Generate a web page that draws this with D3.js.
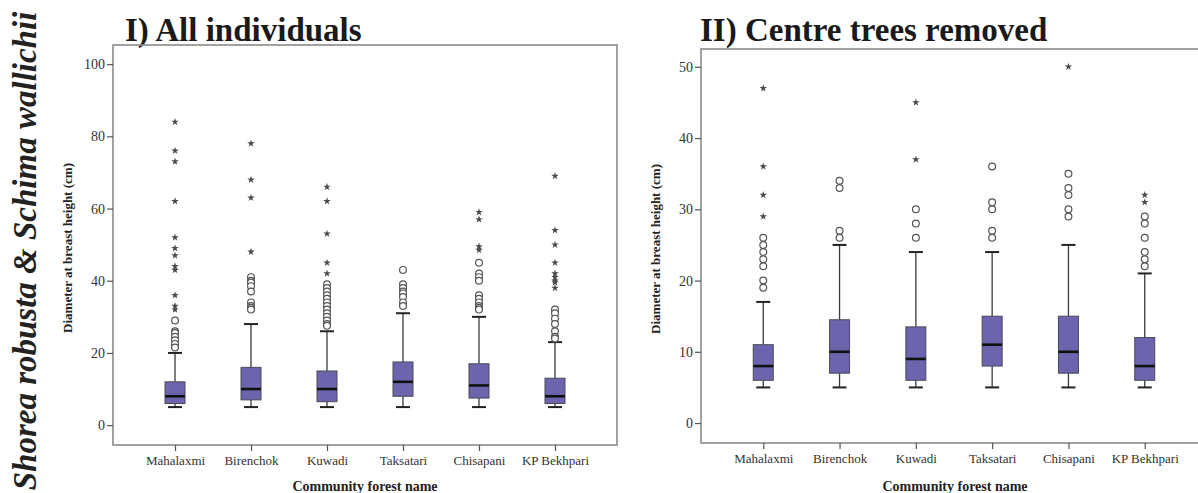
<!DOCTYPE html>
<html>
<head>
<meta charset="utf-8">
<script src="https://cdn.jsdelivr.net/npm/d3@7"></script>
<style>
  body { margin: 0; background: #fff; }
  svg { display: block; }
  svg text { font-family: "Liberation Serif", "Times New Roman", Times, serif; }
</style>
</head>
<body>
<svg id="chart" width="1198" height="493"></svg>
<script>
// Community forests (x categories, same order in both panels)
const forests = ["Mahalaxmi", "Birenchok", "Kuwadi", "Taksatari", "Chisapani", "KP Bekhpari"];

// Panel I: all individuals (DBH, cm)
const allWhiskerLow  = [5, 5, 5, 5, 5, 5];
const allQ1          = [6, 7, 6.5, 8, 7.5, 6];
const allMedian      = [8, 10, 10, 12, 11, 8];
const allQ3          = [12, 16, 15, 17.5, 17, 13];
const allWhiskerHigh = [20, 28, 26, 31, 30, 23];
const allOutliers = [
  [29, 26, 25.5, 24.5, 23.5, 22.5, 21.5],
  [41, 40, 39.5, 38.5, 37, 34, 33, 32.5, 32],
  [39, 38, 37, 36, 35, 34, 33, 32, 31, 30, 29, 28, 27.5],
  [43, 39, 38, 37, 36.5, 35.5, 34, 33],
  [45, 42, 41, 40, 36, 35, 34, 33, 32.5, 32],
  [32, 31, 29.5, 28, 26, 24.5, 24]
];
const allExtremes = [
  [84, 76, 73, 62, 52, 49, 47, 44, 43, 36, 33, 32],
  [78, 68, 63, 48],
  [66, 62, 53, 45, 42],
  [],
  [59, 57, 49.5, 48.5],
  [69, 54, 50, 45, 42, 41, 40, 39.5, 38]
];
const allTicks = [0, 20, 40, 60, 80, 100];

// Panel II: centre trees removed (DBH, cm)
const ctrWhiskerLow  = [5, 5, 5, 5, 5, 5];
const ctrQ1          = [6, 7, 6, 8, 7, 6];
const ctrMedian      = [8, 10, 9, 11, 10, 8];
const ctrQ3          = [11, 14.5, 13.5, 15, 15, 12];
const ctrWhiskerHigh = [17, 25, 24, 24, 25, 21];
const ctrOutliers = [
  [26, 25, 24, 23, 22, 20, 19],
  [34, 33, 27, 26],
  [30, 28, 26],
  [36, 31, 30, 27, 26],
  [35, 33, 32, 30, 29],
  [29, 28, 26, 24, 23, 22]
];
const ctrExtremes = [
  [47, 36, 32, 29],
  [],
  [45, 37],
  [],
  [50],
  [32, 31]
];
const ctrTicks = [0, 10, 20, 30, 40, 50];

const svg = d3.select("#chart");
const boxFill = "#6c64ac";
const ink = "#3a3a3a";

// Species label running up the left edge
svg.append("text")
  .attr("transform", "translate(36,251) rotate(-90)")
  .attr("text-anchor", "middle")
  .style("font-weight", "bold")
  .style("font-style", "italic")
  .style("font-size", "33px")
  .attr("fill", "#222")
  .text("Shorea robusta & Schima wallichii");

function drawPanel(p) {
  const x = d3.scalePoint().domain(forests).range([p.left, p.right]).padding(0.816);
  const y = d3.scaleLinear().domain(p.yDomain).range([p.bottom, p.top]);
  const g = svg.append("g");
  const boxW = 20, capW = 14;

  // Title
  g.append("text")
    .attr("x", p.titleX).attr("y", 41)
    .style("font-weight", "bold").style("font-size", "33px")
    .attr("fill", "#1a1a1a")
    .text(p.title);

  // Frame
  g.append("rect")
    .attr("x", p.left).attr("y", p.top)
    .attr("width", p.right - p.left).attr("height", p.bottom - p.top)
    .attr("fill", "none").attr("stroke", "#8a8a8a").attr("stroke-width", 1.6);

  // Y axis
  const ya = g.append("g").attr("transform", `translate(${p.left},0)`)
    .call(d3.axisLeft(y).tickValues(p.ticks).tickSize(6).tickPadding(2));
  ya.attr("font-family", null);
  ya.select(".domain").remove();
  ya.selectAll(".tick line").attr("stroke", "#555").attr("stroke-width", 1.2);
  ya.selectAll(".tick text").style("font-size", "14px").attr("fill", "#333");

  // X axis
  const xa = g.append("g").attr("transform", `translate(0,${p.bottom})`)
    .call(d3.axisBottom(x).tickSize(6).tickPadding(5));
  xa.attr("font-family", null);
  xa.select(".domain").remove();
  xa.selectAll(".tick line").attr("stroke", "#555").attr("stroke-width", 1.2);
  xa.selectAll(".tick text").style("font-size", "13px").attr("fill", "#333");

  // Axis titles
  g.append("text")
    .attr("transform", `translate(${p.left - 41},${(p.top + p.bottom) / 2 + 3}) rotate(-90)`)
    .attr("text-anchor", "middle")
    .style("font-weight", "bold").style("font-size", "13px")
    .attr("fill", "#222")
    .text("Diameter at breast height (cm)");
  g.append("text")
    .attr("x", p.xTitleX).attr("y", 491)
    .attr("text-anchor", "middle")
    .style("font-weight", "bold").style("font-size", "14px")
    .attr("fill", "#222")
    .text("Community forest name");

  forests.forEach((f, i) => {
    const cx = x(f);
    const b = g.append("g");
    // whiskers
    b.append("line").attr("x1", cx).attr("x2", cx)
      .attr("y1", y(p.q3[i])).attr("y2", y(p.hi[i]))
      .attr("stroke", ink).attr("stroke-width", 1.3);
    b.append("line").attr("x1", cx).attr("x2", cx)
      .attr("y1", y(p.q1[i])).attr("y2", y(p.lo[i]))
      .attr("stroke", ink).attr("stroke-width", 1.3);
    [p.hi[i], p.lo[i]].forEach(v => {
      b.append("line").attr("x1", cx - capW / 2).attr("x2", cx + capW / 2)
        .attr("y1", y(v)).attr("y2", y(v))
        .attr("stroke", "#222").attr("stroke-width", 2);
    });
    // box
    b.append("rect")
      .attr("x", cx - boxW / 2).attr("width", boxW)
      .attr("y", y(p.q3[i])).attr("height", y(p.q1[i]) - y(p.q3[i]))
      .attr("fill", boxFill).attr("stroke", "#4a4a5a").attr("stroke-width", 1);
    // median
    b.append("line").attr("x1", cx - boxW / 2).attr("x2", cx + boxW / 2)
      .attr("y1", y(p.med[i])).attr("y2", y(p.med[i]))
      .attr("stroke", "#111").attr("stroke-width", 2.6);
    // outliers
    b.selectAll("circle.o").data(p.out[i]).join("circle")
      .attr("cx", cx).attr("cy", d => y(d)).attr("r", 3.4)
      .attr("fill", "#fff").attr("stroke", "#555").attr("stroke-width", 1.2);
    // extreme values
    b.selectAll("path.s").data(p.ext[i]).join("path")
      .attr("transform", d => `translate(${cx},${y(d)})`)
      .attr("d", d3.symbol(d3.symbolStar, 18))
      .attr("fill", "#4a4a4a");
  });
}

drawPanel({
  title: "I)  All individuals", titleX: 125,
  left: 113, right: 617, top: 45, bottom: 445,
  yDomain: [-5.5, 105.3], ticks: allTicks, xTitleX: 365,
  lo: allWhiskerLow, q1: allQ1, med: allMedian, q3: allQ3, hi: allWhiskerHigh,
  out: allOutliers, ext: allExtremes
});

drawPanel({
  title: "II)  Centre trees removed", titleX: 700,
  left: 701, right: 1207, top: 49, bottom: 443,
  yDomain: [-2.8, 52.5], ticks: ctrTicks, xTitleX: 955,
  lo: ctrWhiskerLow, q1: ctrQ1, med: ctrMedian, q3: ctrQ3, hi: ctrWhiskerHigh,
  out: ctrOutliers, ext: ctrExtremes
});
</script>
</body>
</html>
